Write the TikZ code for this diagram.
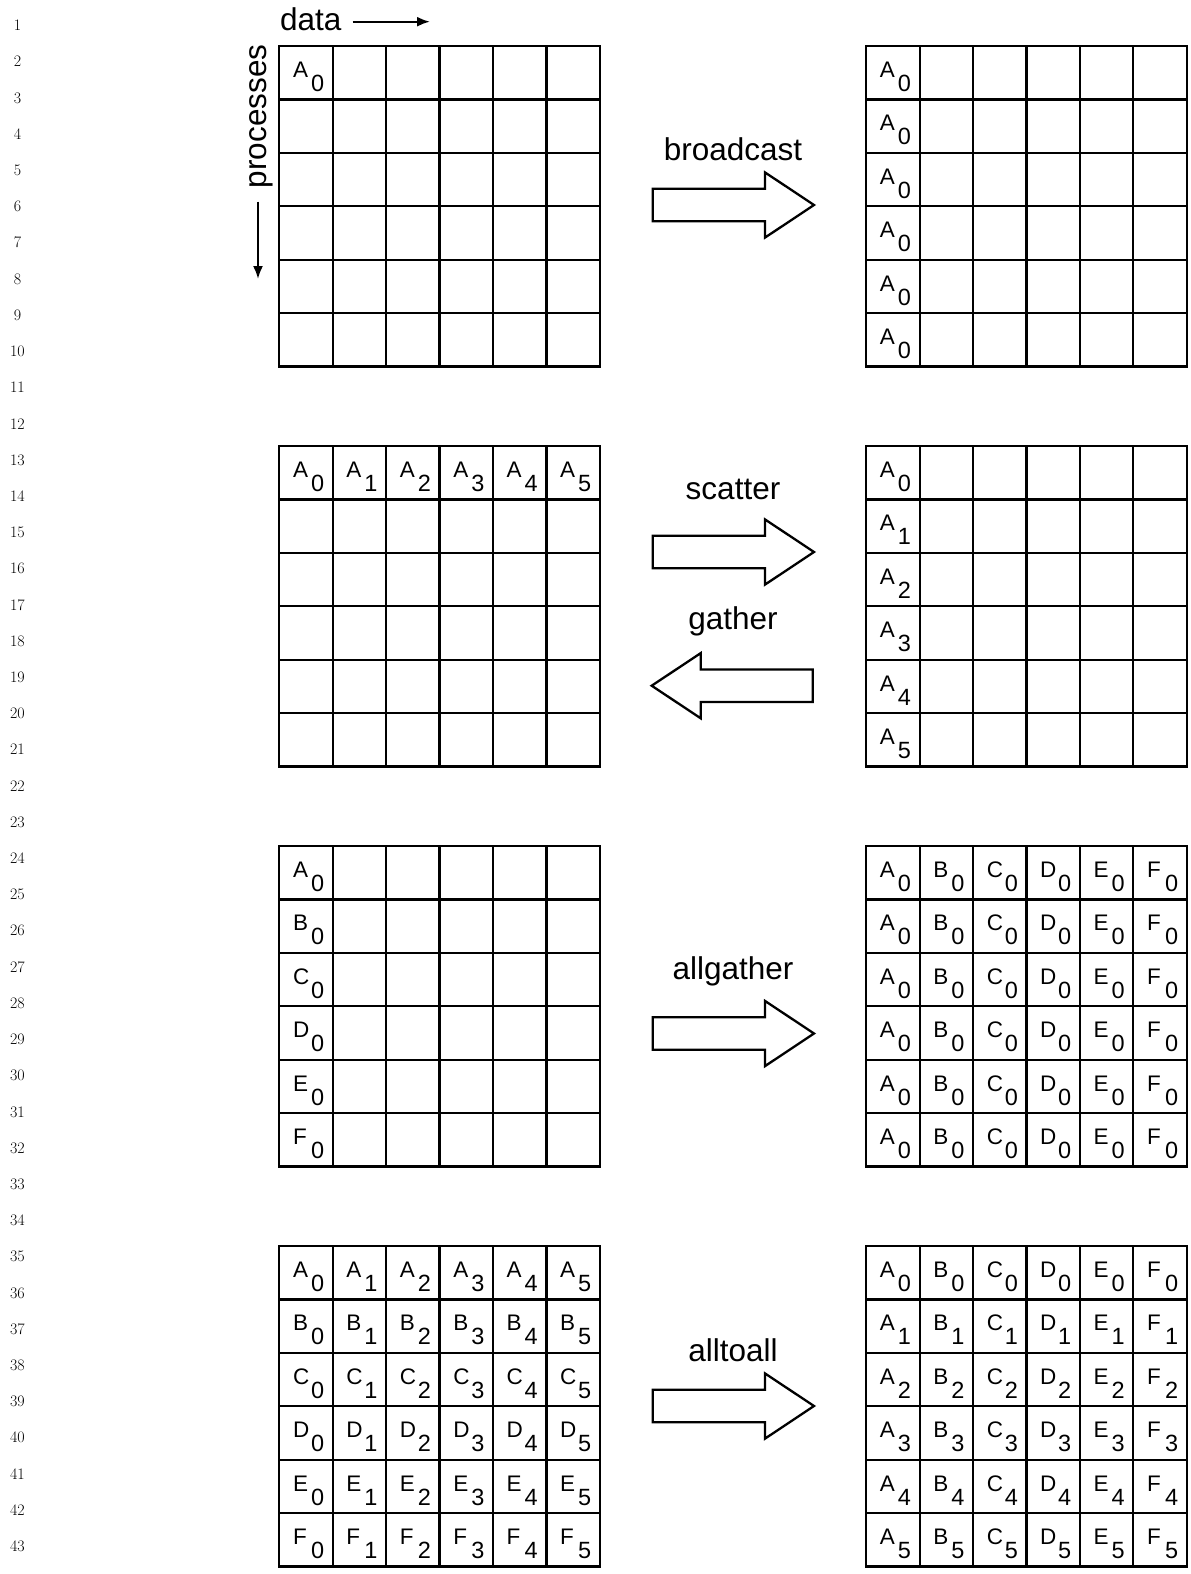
\documentclass[tikz,border=0pt]{standalone}
\usepackage{fontspec}
\newfontfamily\hv{Liberation Sans}
\usetikzlibrary{arrows.meta}
\begin{document}
\begin{tikzpicture}[x=1pt,y=-1pt,
  gridline/.style={line width=2.2pt,line cap=rect},
  blockarrow/.style={line width=2.3pt,line join=miter,fill=white},
  lbl/.style={inner sep=0pt,font=\hv\fontsize{31.5}{36}\selectfont},
  cellletter/.style={inner sep=0pt,anchor=base west,font=\hv\fontsize{22.5}{26}\selectfont},
  celldigit/.style={inner sep=0pt,anchor=base west,font=\hv\fontsize{23.5}{27}\selectfont},
  lineno/.style={inner sep=0pt,anchor=base,font=\rmfamily\fontsize{16}{18}\selectfont},
  axisarrow/.style={line width=2.1pt,-{Latex[length=13pt,width=10pt]}}]
\useasboundingbox (0,0) rectangle (1191,1574);
\def\C{53.42}
\def\XL{279.3}
\def\XR{866.2}
% line numbers
\foreach \n in {1,...,43}{
  \node[lineno] (ln\n) at (17.5,{30.7+(\n-1)*36.21}) {\n};
}
% grids
\foreach \X/\gx in {\XL/l,\XR/r}{
  \foreach \Y/\gy in {46/1,446/2,846/3,1246/4}{
    \foreach \i in {0,...,6}{
      \draw[gridline] ({\X+\i*\C},\Y) -- ({\X+\i*\C},{\Y+6*\C});
      \draw[gridline] (\X,{\Y+\i*\C}) -- ({\X+6*\C},{\Y+\i*\C});
    }
  }
}
% cell text macro: grid x, grid y, col, row, letter, digit, name
\newcommand{\cellput}[7]{%
  \node[cellletter] (#7L) at ({#1+#3*\C+13.5},{#2+#4*\C+31.5}) {#5};
  \node[celldigit] (#7D) at ({#1+#3*\C+31.5},{#2+#4*\C+45.5}) {#6};
}
% grid 1
\cellput{\XL}{46}{0}{0}{A}{0}{g1l00}
\foreach \r in {0,...,5}{ \cellput{\XR}{46}{0}{\r}{A}{0}{g1r\r} }
% grid 2
\foreach \c in {0,...,5}{ \cellput{\XL}{446}{\c}{0}{A}{\c}{g2l\c} }
\foreach \r in {0,...,5}{ \cellput{\XR}{446}{0}{\r}{A}{\r}{g2r\r} }
% grid 3
\foreach \L [count=\r from 0] in {A,B,C,D,E,F}{ \cellput{\XL}{846}{0}{\r}{\L}{0}{g3l\r} }
\foreach \r in {0,...,5}{
  \foreach \L [count=\c from 0] in {A,B,C,D,E,F}{ \cellput{\XR}{846}{\c}{\r}{\L}{0}{g3r\r\c} }
}
% grid 4
\foreach \L [count=\r from 0] in {A,B,C,D,E,F}{
  \foreach \c in {0,...,5}{ \cellput{\XL}{1246}{\c}{\r}{\L}{\c}{g4l\r\c} }
}
\foreach \L [count=\c from 0] in {A,B,C,D,E,F}{
  \foreach \r in {0,...,5}{ \cellput{\XR}{1246}{\c}{\r}{\L}{\r}{g4r\r\c} }
}
% axis labels
\node[lbl,anchor=base west] (data) at (280,30.7) {data};
\coordinate (dataA) at (352.7,21.7);
\coordinate (dataB) at (430,21.7);
\draw[axisarrow] (dataA) -- (dataB);
\node[lbl,anchor=base west,rotate=90] (proc) at (266,188.3) {processes};
\coordinate (procA) at (258,201.7);
\coordinate (procB) at (258,279);
\draw[axisarrow] (procA) -- (procB);
% block arrows
\newcommand{\rarrow}[1]{%
  \draw[blockarrow] (652.7,{#1-16.3}) -- (765,{#1-16.3}) -- (765,{#1-32.6}) -- (814,#1)
    -- (765,{#1+32.6}) -- (765,{#1+16.3}) -- (652.7,{#1+16.3}) -- cycle;}
\newcommand{\larrow}[1]{%
  \draw[blockarrow] (812.7,{#1-16.3}) -- (700.7,{#1-16.3}) -- (700.7,{#1-32.6}) -- (651.7,#1)
    -- (700.7,{#1+32.6}) -- (700.7,{#1+16.3}) -- (812.7,{#1+16.3}) -- cycle;}
\rarrow{205}
\rarrow{552}
\larrow{685.7}
\rarrow{1033.5}
\rarrow{1406}
\node[lbl,anchor=base] (tbroad) at (733,160.7) {broadcast};
\node[lbl,anchor=base] (tscat) at (733,499.3) {scatter};
\node[lbl,anchor=base] (tgath) at (733,629.5) {gather};
\node[lbl,anchor=base] (tallg) at (733,979) {allgather};
\node[lbl,anchor=base] (talla) at (733,1361.6) {alltoall};
\end{tikzpicture}
\end{document}
